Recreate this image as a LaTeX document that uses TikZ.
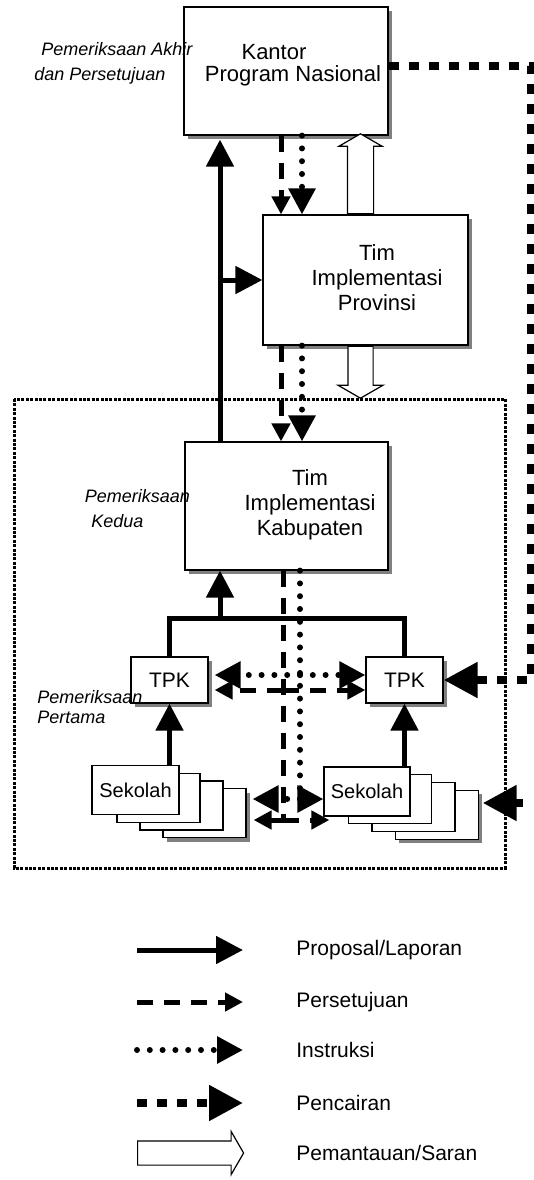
\documentclass[tikz,border=0pt]{standalone}
\usepackage{fontspec}
\setmainfont{Liberation Sans}
\usetikzlibrary{arrows.meta,shapes.arrows,shadows}

\begin{document}
\begin{tikzpicture}[x=0.5pt, y=-0.5pt,
  boxshadow/.style = {drop shadow={shadow xshift=2pt, shadow yshift=-2pt, fill=gray, opacity=1}},
  box/.style = {draw, line width=0.6pt, fill=white, inner sep=0pt, boxshadow},
  sheet/.style = {draw, line width=0.6pt, fill=white, inner sep=0pt, minimum width=41.5pt, minimum height=24.5pt},
  boxtext/.style = {font=\fontsize{11}{12.5}\selectfont, align=center, inner sep=0pt},
  note/.style = {font=\fontsize{9}{12.5}\selectfont\itshape, align=left, inner sep=0pt, anchor=west},
  legtext/.style = {font=\fontsize{10.5}{12}\selectfont, anchor=west, inner sep=0pt},
  frame/.style = {line width=1.5pt, dash pattern=on 1.5pt off 0.7pt},
  report/.style = {line width=2.5pt, -{Triangle[length=13.5pt, width=13.5pt]}},
  approve/.style = {line width=2.5pt, dash pattern=on 8pt off 5.5pt, -{Triangle[length=9pt, width=9pt]}},
  instruct/.style = {line width=3pt, line cap=round, dash pattern=on 0pt off 6.4pt, -{Triangle[length=13pt, width=13pt]}},
  fund/.style = {line width=4pt, dash pattern=on 5pt off 5pt, -{Triangle[length=17pt, width=17pt]}},
  monitor/.style = {single arrow, draw, line width=0.6pt, fill=white, inner xsep=0pt,
                    single arrow tip angle=120, anchor=tail},
  ]
  \useasboundingbox (0,0) rectangle (534,1180);
  \draw[frame] (14,399) rectangle (505,868);

  \node[box, minimum width=102pt, minimum height=64pt,
        label={[boxtext, xshift=3.5pt, yshift=3pt]center:{Kantor\hspace*{19pt}\\[-1.5pt]Program Nasional}}]
        (kantor) at (286,71) {};
  \node[box, minimum width=102.5pt, minimum height=65pt,
        label={[boxtext, xshift=5.75pt, yshift=1pt]center:{Tim\\Implementasi\\Provinsi}}]
        (prov) at (365.5,280) {};
  \node[box, minimum width=101.5pt, minimum height=64pt,
        label={[boxtext, xshift=11.75pt, yshift=0.5pt]center:{Tim\\Implementasi\\Kabupaten}}]
        (kab) at (286.5,506) {};
  \node[box, minimum width=38.5pt, minimum height=23pt, font=\fontsize{10.5}{12}\selectfont] (tpkL) at (169.5,680) {TPK};
  \node[box, minimum width=38.5pt, minimum height=23pt, font=\fontsize{10.5}{12}\selectfont] (tpkR) at (404.5,680) {TPK};

  \node[sheet, boxshadow, xshift=34.5pt, yshift=-11.55pt] (sekL3) at (135.5,790) {};
  \foreach \k in {2,1}
    \node[sheet, xshift=\k*11.5pt, yshift=-\k*3.85pt] (sekL\k) at (135.5,790) {};
  \node[sheet, minimum width=43.5pt, font=\fontsize{10}{12}\selectfont] (sekL) at (135.5,790) {Sekolah};

  \node[sheet, boxshadow, xshift=34.8pt, yshift=-11.55pt] (sekR3) at (367,791.5) {};
  \foreach \k in {2,1}
    \node[sheet, xshift=\k*11.6pt, yshift=-\k*3.85pt] (sekR\k) at (367,791.5) {};
  \node[sheet, minimum width=43pt, font=\fontsize{10}{12}\selectfont] (sekR) at (367,791.5) {Sekolah};

  \coordinate (bar) at (220,618);
  \draw[line width=2.5pt] (tpkL.north) |- (bar) -| (tpkR.north);
  \draw[report] (bar) -- (bar |- kab.south);
  \draw[report, shorten >=2pt] (bar |- kab.north) -- (bar |- kantor.south);
  \draw[report] (bar |- prov.west) -- (prov.west);
  \draw[report] (tpkL.south |- sekL.north) -- (tpkL.south);
  \draw[report] (tpkR.south |- sekR.north) -- (tpkR.south);

  \coordinate (dsh) at (281,0);
  \coordinate (dshT) at (283,690);
  \coordinate (dshS) at (283,820);
  \draw[approve] (kantor.south -| dsh) -- (prov.north -| dsh);
  \draw[approve] (prov.south -| dsh) -- (kab.north -| dsh);
  \draw[approve, -] (kab.south -| dshT) -- (dshS);
  \draw[approve] (dshT) -- ([xshift=3pt]tpkL.east |- dshT);
  \draw[approve] (dshT) -- (tpkR.west |- dshT);
  \draw[approve] (dshS) -- ([xshift=3.5pt]sekL3.east |- dshS);
  \draw[approve] (dshS) -- ([xshift=3pt]sekR.west |- dshS);

  \coordinate (dot) at (302,0);
  \coordinate (dotT) at (300,675);
  \coordinate (dotS) at (300,799);
  \draw[instruct] (kantor.south -| dot) -- (prov.north -| dot);
  \draw[instruct] (prov.south -| dot) -- (kab.north -| dot);
  \draw[instruct, -] (kab.south -| dotT) -- (dotS);
  \draw[instruct] (dotT) -- ([xshift=3pt]tpkL.east |- dotT);
  \draw[instruct] (dotT) -- (tpkR.west |- dotT);
  \draw[instruct] (dotS) -- ([xshift=3pt]sekL3.east |- dotS);
  \draw[instruct] (dotS) -- (sekR.west |- dotS);

  \coordinate (fundC) at (531,66);
  \coordinate (fundS) at (523,803);
  \draw[fund] (kantor.east |- fundC) -- (fundC) |- (tpkR.east);
  \draw[fund] (fundS) -- ([xshift=2pt]sekR3.east |- fundS);

  \coordinate (mon) at (360.5,0);
  \node[monitor, shape border rotate=90, minimum height=40pt, inner xsep=6.25pt, inner ysep=0pt,
        single arrow head extend=4.25pt] (monUp) at (prov.north -| mon) {};
  \node[monitor, shape border rotate=270, minimum height=26pt, inner xsep=6pt, inner ysep=0pt,
        single arrow head extend=5pt] (monDown) at (prov.south -| mon) {};

  \node[note] (noteA) at (34,63.5) {\hspace*{3.5pt}Pemeriksaan Akhir\\dan Persetujuan};
  \node[note] (noteB) at (84.5,508.5) {Pemeriksaan\\\hspace*{3.25pt}Kedua};
  \node[note, font=\fontsize{9}{10}\selectfont\itshape] (noteC) at (37,707) {Pemeriksaan\\Pertama};

  \foreach \yy/\sty [count=\i] in {950/report, 1002/approve, 1050/instruct, 1103/fund}{
    \coordinate (lgS\i) at (137,\yy);
    \coordinate (lgE\i) at (243,\yy);
    \draw[\sty] (lgS\i) -- (lgE\i);
  }
  \node[monitor, minimum height=53pt, inner ysep=5.75pt, single arrow head extend=4.75pt] (lgM) at (137,1153) {};
  \node[legtext] (lgT1) at (296,950) {Proposal/Laporan};
  \node[legtext] (lgT2) at (296,1002) {Persetujuan};
  \node[legtext] (lgT3) at (296,1050) {Instruksi};
  \node[legtext] (lgT4) at (296,1103) {Pencairan};
  \node[legtext] (lgT5) at (296,1153) {Pemantauan/Saran};
\end{tikzpicture}
\end{document}
